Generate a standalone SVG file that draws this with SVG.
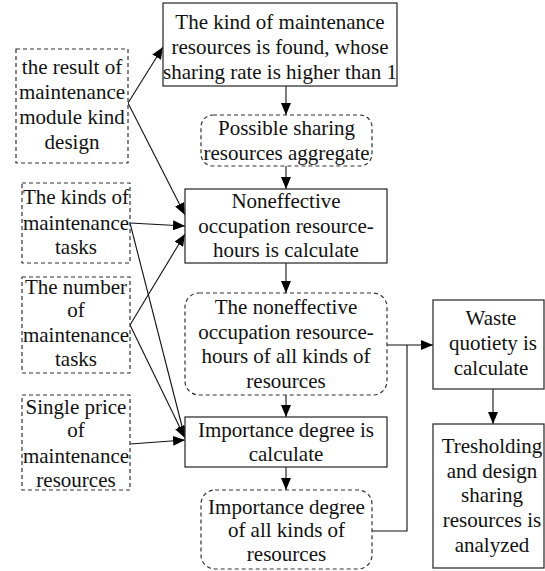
<svg xmlns="http://www.w3.org/2000/svg" width="545" height="571" viewBox="0 0 545 571">
<style>
text{font-size:21px;fill:#111;text-anchor:middle}
.solid{fill:#fff;stroke:#333;stroke-width:1.3}
.dash{fill:#fff;stroke:#333;stroke-width:1.2;stroke-dasharray:4,3}
.c{fill:none;stroke:#111;stroke-width:1.1}
</style>
<defs>
<marker id="ah" viewBox="0 0 12 10" refX="12" refY="5" markerWidth="12" markerHeight="10" markerUnits="userSpaceOnUse" orient="auto">
<path d="M0,0 L12,5 L0,10 Z" fill="#000"/>
</marker>
</defs>
<rect width="545" height="571" fill="#fff"/>
<g id="connectors">
<path class="c" d="M128,103 L163,47" marker-end="url(#ah)"/>
<path class="c" d="M128,103 L185,215" marker-end="url(#ah)"/>
<path class="c" d="M130,223 L185,226" marker-end="url(#ah)"/>
<path class="c" d="M130,325 L185,234" marker-end="url(#ah)"/>
<path class="c" d="M130,223 L185,438" marker-end="url(#ah)"/>
<path class="c" d="M130,325 L185,438" marker-end="url(#ah)"/>
<path class="c" d="M130,444 L185,440" marker-end="url(#ah)"/>
<path class="c" d="M286,86 L286,115" marker-end="url(#ah)"/>
<path class="c" d="M286,166 L286,189" marker-end="url(#ah)"/>
<path class="c" d="M286,263 L286,293" marker-end="url(#ah)"/>
<path class="c" d="M286,395 L286,417" marker-end="url(#ah)"/>
<path class="c" d="M286,467 L286,490" marker-end="url(#ah)"/>
<path class="c" d="M387,345 L433,345" marker-end="url(#ah)"/>
<path class="c" d="M372,531 L407,531 L407,345"/>
<path class="c" d="M493,389 L493,424" marker-end="url(#ah)"/>
</g>
<g font-family="Liberation Serif, DejaVu Serif, serif">
<g id="n1">
<rect class="solid" x="163" y="3" width="234" height="83"/>
<text x="280" y="29">The kind of maintenance</text>
<text x="280" y="54">resources is found,  whose</text>
<text x="280" y="79">sharing rate is higher than 1</text>
</g>
<g id="n2">
<rect class="dash" x="201" y="115" width="171" height="51" rx="12"/>
<text x="286.5" y="135">Possible sharing</text>
<text x="286.5" y="160">resources aggregate</text>
</g>
<g id="n3">
<rect class="solid" x="185" y="189" width="202" height="74"/>
<text x="286" y="208">Noneffective</text>
<text x="286" y="233">occupation resource-</text>
<text x="286" y="257">hours is calculate</text>
</g>
<g id="n4">
<rect class="dash" x="185" y="293" width="202" height="102" rx="14"/>
<text x="286" y="314">The noneffective</text>
<text x="286" y="339">occupation resource-</text>
<text x="286" y="363">hours of all kinds of</text>
<text x="286" y="388">resources</text>
</g>
<g id="n5">
<rect class="solid" x="185" y="417" width="202" height="50"/>
<text x="286" y="437">Importance degree is</text>
<text x="286" y="461">calculate</text>
</g>
<g id="n6">
<rect class="dash" x="201" y="490" width="171" height="79" rx="14"/>
<text x="286.5" y="514">Importance degree</text>
<text x="286.5" y="537">of all kinds of</text>
<text x="286.5" y="561">resources</text>
</g>
<g id="n7">
<rect class="solid" x="433" y="300" width="111" height="89"/>
<text x="491" y="325">Waste</text>
<text x="493" y="350">quotiety is</text>
<text x="491" y="375">calculate</text>
</g>
<g id="n8">
<rect class="solid" x="433" y="424" width="111" height="144"/>
<text x="492" y="453">Tresholding</text>
<text x="492" y="478">and design</text>
<text x="492" y="502">sharing</text>
<text x="492" y="527">resources is</text>
<text x="492" y="552">analyzed</text>
</g>
<g id="l1">
<rect class="dash" x="16" y="49" width="112" height="114"/>
<text x="72" y="74">the result of</text>
<text x="72" y="99">maintenance</text>
<text x="72" y="124">module kind</text>
<text x="72" y="149">design</text>
</g>
<g id="l2">
<rect class="dash" x="22" y="183" width="108" height="80"/>
<text x="76" y="204">The kinds of</text>
<text x="76" y="230">maintenance</text>
<text x="76" y="254">tasks</text>
</g>
<g id="l3">
<rect class="dash" x="22" y="277" width="108" height="96"/>
<text x="76" y="294">The number</text>
<text x="76" y="317">of</text>
<text x="76" y="342">maintenance</text>
<text x="76" y="366">tasks</text>
</g>
<g id="l4">
<rect class="dash" x="22" y="395" width="108" height="95"/>
<text x="76" y="414">Single price</text>
<text x="76" y="437">of</text>
<text x="76" y="463">maintenance</text>
<text x="76" y="487">resources</text>
</g>
</g>
</svg>
